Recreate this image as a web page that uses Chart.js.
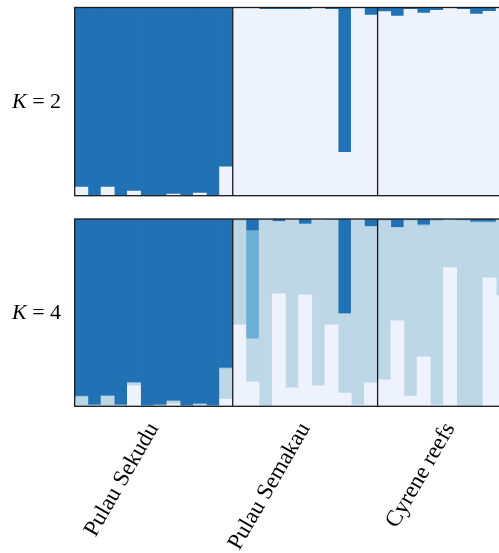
<!DOCTYPE html>
<html><head><meta charset="utf-8">
<script src="https://cdn.jsdelivr.net/npm/chart.js@4.4.1/dist/chart.umd.min.js"></script>
<style>
html,body{margin:0;padding:0;background:#fff;overflow:hidden;width:499px;height:553px;}
#c1{position:absolute;left:0;top:0;}
#c2{position:absolute;left:0;top:210px;}
</style></head><body>
<canvas id="c1" width="499" height="205"></canvas>
<canvas id="c2" width="499" height="343"></canvas>
<script>
// ---- data ----
const groups = ['Pulau Sekudu', 'Pulau Semakau', 'Cyrene reefs'];
const groupSizes = [12, 11, 11];
const panelLabels = ['2', '4'];

// K = 2 (cluster membership, bottom -> top)
const k2Pale = [0.046,0,0.046,0,0.025,0,0,0.009,0,0.014,0,0.153,
                0.997,0.995,0.99,0.99,0.99,0.99,0.997,0.99,0.23,0.997,0.96,
                0.978,0.955,0.99,0.97,0.985,0.997,0.99,0.965,0.98,0.997,0.99];
const k2Dark = [0.954,1,0.954,1,0.975,1,1,0.991,1,0.986,1,0.847,
                0.003,0.005,0.01,0.01,0.01,0.01,0.003,0.01,0.77,0.003,0.04,
                0.022,0.045,0.01,0.03,0.015,0.003,0.01,0.035,0.02,0.003,0.01];

// K = 4 (bottom -> top)
const k4Pale   = [0,0,0,0,0.109,0,0,0.012,0,0,0,0.039,
                  0.435,0.13,0,0.601,0.098,0.595,0.109,0.435,0.071,0.007,0.125,
                  0.141,0.456,0.055,0.264,0.007,0.74,0,0,0.686,0.59,0.3];
const k4Light  = [0.05,0.007,0.055,0.007,0.016,0.003,0.007,0.016,0.002,0.012,0.002,0.162,
                  0.556,0.23,0.995,0.385,0.9,0.378,0.889,0.56,0.423,0.991,0.834,
                  0.85,0.498,0.936,0.701,0.983,0.255,0.991,0.981,0.295,0.405,0.69];
const k4Medium = [0.005,0,0,0,0,0,0,0,0,0,0,0.005,
                  0.009,0.578,0,0,0,0,0,0,0,0,0,
                  0,0,0.004,0.005,0.005,0.005,0.004,0.005,0.005,0.005,0];
const k4Dark   = [0.945,0.993,0.945,0.993,0.875,0.997,0.993,0.972,0.998,0.988,0.998,0.794,
                  0,0.062,0.005,0.014,0.002,0.027,0.002,0.005,0.506,0.002,0.041,
                  0.009,0.046,0.005,0.03,0.005,0,0.005,0.014,0.014,0,0.01];

const C_PALE = '#eef2fd', C_LIGHT = '#bdd7e7', C_MED = '#6baed6', C_DARK = '#2171b5';

// ---- layout helpers ----
const LEFT = 74.7, BAR = 13.17;
const XMAX = (499 - LEFT) / BAR;
const boundaries = [];
const centers = [];
(function(){ let s = 0; groupSizes.forEach(n => { centers.push(s + n/2); s += n; boundaries.push(s); }); })();

function ds(arr, color){
  return {data: arr.map((v,i)=>({x:i+0.5, y:v})), backgroundColor: color,
          borderWidth:0, barPercentage:1, categoryPercentage:1, clip:0};
}

function framePlugin(k){
  return {
    id:'frame'+k,
    afterDatasetsDraw(chart){
      const {ctx, chartArea:a, scales:{x}} = chart;
      ctx.save();
      ctx.strokeStyle = '#1a1a1a';
      ctx.lineWidth = 1.3;
      boundaries.slice(0,-1).forEach(b => {
        const px = x.getPixelForValue(b);
        ctx.beginPath(); ctx.moveTo(px, a.top); ctx.lineTo(px, a.bottom); ctx.stroke();
      });
      ctx.strokeRect(a.left, a.top, x.getPixelForValue(groupSizes.reduce((p,c)=>p+c,0)) - a.left, a.bottom - a.top);
      // panel label
      const base = (a.top + a.bottom)/2 + 6;
      ctx.fillStyle = '#000';
      ctx.textBaseline = 'alphabetic';
      ctx.textAlign = 'left';
      ctx.font = 'italic 22px "Liberation Serif"';
      ctx.fillText('K', 12, base);
      const w = ctx.measureText('K').width;
      ctx.font = '22px "Liberation Serif"';
      ctx.fillText(' = ' + k, 12 + w, base);
      ctx.restore();
    }
  };
}

new Chart(document.getElementById('c1'), {
  type:'bar',
  data:{datasets:[ds(k2Pale, C_PALE), ds(k2Dark, C_DARK)]},
  options:{
    responsive:false, animation:false,
    layout:{padding:{left:LEFT, top:7.5, right:0, bottom:9.3}},
    plugins:{legend:{display:false}, tooltip:{enabled:false}},
    scales:{
      x:{type:'linear', min:0, max:XMAX, stacked:true, display:false, offset:false, grid:{offset:false}},
      y:{min:0, max:1, stacked:true, display:false}
    }
  },
  plugins:[framePlugin(panelLabels[0])]
});

new Chart(document.getElementById('c2'), {
  type:'bar',
  data:{datasets:[ds(k4Pale, C_PALE), ds(k4Light, C_LIGHT), ds(k4Medium, C_MED), ds(k4Dark, C_DARK)]},
  options:{
    responsive:false, animation:false,
    layout:{padding:{left:LEFT, top:9, right:0, bottom:0}},
    plugins:{legend:{display:false}, tooltip:{enabled:false}},
    scales:{
      x:{type:'linear', min:0, max:XMAX, stacked:true, offset:false,
         grid:{display:false, drawTicks:false, offset:false}, border:{display:false},
         afterBuildTicks: s => { s.ticks = centers.map(v => ({value:v})); },
         afterFit: s => { s.height = 343 - 196.3; },
         ticks:{autoSkip:false, minRotation:60, maxRotation:60, padding:11.5, color:'#000',
                font:{family:'"Liberation Serif"', size:23},
                callback:(v,i)=>groups[i]}
      },
      y:{min:0, max:1, stacked:true, display:false}
    }
  },
  plugins:[framePlugin(panelLabels[1])]
});
</script>
</body></html>
